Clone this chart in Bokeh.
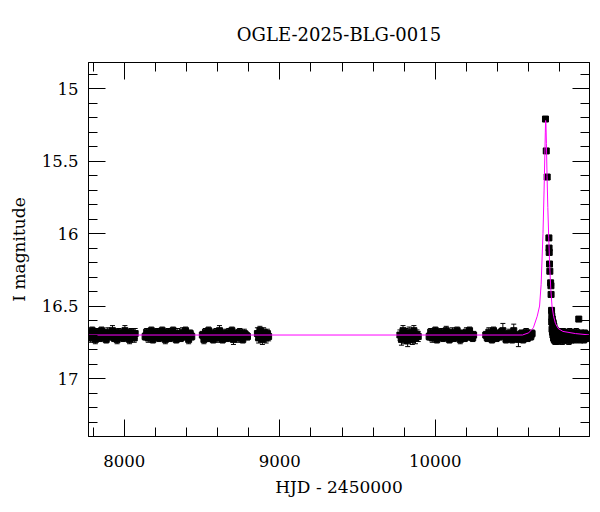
from bokeh.plotting import figure
from bokeh.models import (ColumnDataSource, Range1d, LinearAxis, FixedTicker,
                          CustomJSTickFormatter, Whisker, TeeHead)
from bokeh.embed import file_html
from bokeh.resources import INLINE

FONT = "DejaVu Serif"

# ---------------- data ----------------
s1_t = [7774, 7784, 7794, 7804, 7814, 7824, 7834, 7844, 7854, 7864, 7874, 7884, 7894, 7904, 7914, 7924,
        7934, 7944, 7954, 7964, 7974, 7984, 7994, 8004, 8014, 8024, 8034, 8044, 8054, 8064, 8070]
s1_m = [16.69, 16.72, 16.67, 16.71, 16.73, 16.68, 16.70, 16.72, 16.67, 16.71, 16.69, 16.73, 16.68, 16.71,
        16.70, 16.67, 16.72, 16.69, 16.73, 16.68, 16.71, 16.70, 16.72, 16.67, 16.71, 16.69, 16.73, 16.68,
        16.70, 16.72, 16.69]
s1_e = [0.025, 0.03, 0.025, 0.025, 0.03, 0.025, 0.035, 0.025, 0.025, 0.03, 0.025, 0.025, 0.03, 0.025,
        0.025, 0.035, 0.025, 0.025, 0.03, 0.025, 0.025, 0.03, 0.025, 0.035, 0.025, 0.025, 0.03, 0.025,
        0.025, 0.03, 0.035]

s2_t = [8134, 8144, 8154, 8164, 8174, 8184, 8194, 8204, 8214, 8224, 8234, 8244, 8254, 8264, 8274, 8284,
        8294, 8304, 8314, 8324, 8334, 8344, 8354, 8364, 8374, 8384, 8394, 8404, 8414, 8424, 8434]
s2_m = [16.71, 16.68, 16.72, 16.70, 16.67, 16.73, 16.69, 16.71, 16.68, 16.72, 16.70, 16.67, 16.71, 16.73,
        16.69, 16.68, 16.72, 16.70, 16.67, 16.71, 16.73, 16.69, 16.70, 16.72, 16.68, 16.71, 16.67, 16.70,
        16.73, 16.69, 16.71]
s2_e = [0.025, 0.025, 0.03, 0.025, 0.025, 0.025, 0.03, 0.025, 0.025, 0.025, 0.035, 0.025, 0.025, 0.03,
        0.025, 0.025, 0.025, 0.03, 0.025, 0.025, 0.025, 0.035, 0.025, 0.025, 0.03, 0.025, 0.025, 0.025,
        0.03, 0.025, 0.025]

s3_t = [8502, 8512, 8522, 8532, 8542, 8552, 8562, 8572, 8582, 8592, 8602, 8612, 8622, 8632, 8642,
        8652, 8662, 8672, 8682, 8692, 8702, 8712, 8722, 8732, 8742, 8752, 8762, 8772, 8782, 8792]
s3_m = [16.70, 16.73, 16.68, 16.71, 16.67, 16.72, 16.69, 16.73, 16.70, 16.68, 16.72, 16.67, 16.71, 16.73,
        16.69, 16.70, 16.72, 16.68, 16.71, 16.67, 16.73, 16.70, 16.69, 16.72, 16.68, 16.71, 16.73, 16.69,
        16.70, 16.71]
s3_e = [0.025, 0.03, 0.025, 0.035, 0.025, 0.025, 0.03, 0.025, 0.025, 0.025, 0.03, 0.035, 0.025, 0.025,
        0.03, 0.025, 0.025, 0.025, 0.03, 0.025, 0.035, 0.025, 0.025, 0.03, 0.025, 0.025, 0.025, 0.03,
        0.025, 0.025]

s4_t = [8856, 8864, 8872, 8880, 8888, 8896, 8904, 8912, 8920, 8928]
s4_m = [16.69, 16.72, 16.67, 16.71, 16.73, 16.68, 16.70, 16.72, 16.69, 16.71]
s4_e = [0.04, 0.035, 0.03, 0.03, 0.035, 0.03, 0.03, 0.035, 0.03, 0.03]

s5_t = [9772, 9782, 9792, 9802, 9812, 9822, 9832, 9842, 9852, 9862, 9872, 9882, 9890]
s5_m = [16.70, 16.73, 16.67, 16.72, 16.69, 16.74, 16.68, 16.71, 16.73, 16.67, 16.72, 16.70, 16.71]
s5_e = [0.035, 0.04, 0.035, 0.04, 0.035, 0.04, 0.035, 0.04, 0.035, 0.035, 0.04, 0.035, 0.035]

s6_t = [9960, 9970, 9980, 9990, 10000, 10010, 10020, 10030, 10040, 10050, 10060, 10070, 10080, 10090,
        10100, 10110, 10120, 10130, 10140, 10150, 10160, 10170, 10180, 10190, 10200, 10210, 10220,
        10230, 10240, 10246]
s6_m = [16.71, 16.68, 16.72, 16.70, 16.67, 16.73, 16.69, 16.71, 16.68, 16.72, 16.70, 16.67, 16.71, 16.73,
        16.69, 16.68, 16.72, 16.70, 16.67, 16.71, 16.73, 16.69, 16.70, 16.72, 16.68, 16.71, 16.67, 16.70,
        16.72, 16.70]
s6_e = [0.025, 0.025, 0.03, 0.025, 0.025, 0.025, 0.03, 0.025, 0.025, 0.025, 0.025, 0.03, 0.025, 0.025,
        0.025, 0.03, 0.025, 0.025, 0.025, 0.025, 0.03, 0.025, 0.025, 0.025, 0.03, 0.025, 0.025, 0.025,
        0.025, 0.025]

s7_t = [10324, 10334, 10344, 10354, 10364, 10374, 10384, 10394, 10404, 10414, 10424, 10434, 10444,
        10454, 10464, 10474, 10484, 10494, 10504, 10514, 10524, 10534, 10544, 10554, 10564, 10574,
        10584, 10594, 10604, 10614, 10622]
s7_m = [16.70, 16.72, 16.68, 16.71, 16.73, 16.67, 16.70, 16.72, 16.69, 16.71, 16.68, 16.67, 16.70,
        16.73, 16.72, 16.69, 16.71, 16.73, 16.67, 16.70, 16.72, 16.73, 16.71, 16.69, 16.73, 16.70,
        16.68, 16.72, 16.70, 16.71, 16.69]
s7_e = [0.025, 0.025, 0.03, 0.025, 0.025, 0.025, 0.03, 0.025, 0.025, 0.025, 0.025, 0.05, 0.025,
        0.025, 0.025, 0.03, 0.025, 0.025, 0.045, 0.025, 0.025, 0.05, 0.025, 0.025, 0.025, 0.03,
        0.025, 0.025, 0.025, 0.025, 0.025]

ev_t = [10708, 10713, 10719, 10730, 10731, 10732, 10734, 10736, 10741, 10743, 10744]
ev_m = [15.21, 15.43, 15.61, 16.03, 16.10, 16.13, 16.21, 16.26, 16.34, 16.36, 16.42]
ev_e = [0.01, 0.012, 0.012, 0.012, 0.012, 0.012, 0.012, 0.012, 0.012, 0.012, 0.012]

tail_t = [10747, 10748, 10749, 10750, 10752, 10753, 10755, 10756, 10758, 10760, 10762, 10764,
          10767, 10770, 10773, 10776, 10780, 10784, 10788, 10793, 10798, 10804, 10810, 10816,
          10822, 10828, 10834, 10840, 10846, 10852, 10858, 10864, 10870, 10876, 10882, 10888,
          10894, 10900, 10906, 10912, 10918, 10922, 10926, 10932, 10938, 10944, 10950, 10956,
          10962, 10968, 10974, 10980, 10986]
tail_m = [16.53, 16.61, 16.57, 16.66, 16.59, 16.68, 16.61, 16.70, 16.62, 16.72, 16.64, 16.73,
          16.66, 16.74, 16.67, 16.73, 16.68, 16.74, 16.69, 16.73, 16.68, 16.72, 16.70, 16.74,
          16.68, 16.71, 16.73, 16.69, 16.72, 16.70, 16.74, 16.68, 16.71, 16.73, 16.69, 16.72,
          16.70, 16.73, 16.68, 16.71, 16.72, 16.59, 16.70, 16.73, 16.69, 16.72, 16.70, 16.73,
          16.69, 16.71, 16.72, 16.70, 16.71]
tail_e = [0.02, 0.025, 0.02, 0.025, 0.02, 0.025, 0.02, 0.025, 0.025, 0.025, 0.025, 0.025,
          0.025, 0.025, 0.025, 0.025, 0.025, 0.025, 0.025, 0.025, 0.025, 0.03, 0.025, 0.025,
          0.025, 0.025, 0.025, 0.03, 0.025, 0.025, 0.025, 0.025, 0.025, 0.025, 0.025, 0.025,
          0.03, 0.025, 0.025, 0.025, 0.025, 0.008, 0.025, 0.025, 0.025, 0.025, 0.025, 0.025,
          0.025, 0.025, 0.025, 0.025, 0.025]

model_t = [7770, 10560, 10600, 10630, 10655, 10670, 10680, 10692, 10699, 10704, 10707, 10709,
           10711, 10714, 10718, 10723, 10729, 10735, 10742, 10750, 10760, 10772, 10790, 10820,
           10900, 10995]
model_m = [16.70, 16.70, 16.685, 16.65, 16.57, 16.50, 16.35, 16.00, 15.70, 15.45, 15.30, 15.22,
           15.24, 15.38, 15.60, 15.82, 16.03, 16.22, 16.38, 16.50, 16.57, 16.62, 16.655, 16.675,
           16.69, 16.70]

x_major = [8000, 9000, 10000]
x_minor = [7800, 8000, 8200, 8400, 8600, 8800, 9000, 9200, 9400, 9600, 9800, 10000,
           10200, 10400, 10600, 10800]
y_major = [15, 15.5, 16, 16.5, 17]
y_minor = [14.9, 15.0, 15.1, 15.2, 15.3, 15.4, 15.5, 15.6, 15.7, 15.8, 15.9, 16.0, 16.1,
           16.2, 16.3, 16.4, 16.5, 16.6, 16.7, 16.8, 16.9, 17.0, 17.1, 17.2, 17.3]

# ---------------- build ----------------
T = s1_t + s2_t + s3_t + s4_t + s5_t + s6_t + s7_t + ev_t + tail_t
M = s1_m + s2_m + s3_m + s4_m + s5_m + s6_m + s7_m + ev_m + tail_m
E = s1_e + s2_e + s3_e + s4_e + s5_e + s6_e + s7_e + ev_e + tail_e
src = ColumnDataSource(dict(t=T, m=M, up=[a - b for a, b in zip(M, E)],
                            lo=[a + b for a, b in zip(M, E)]))

p = figure(output_backend="svg", toolbar_location=None,
           x_range=Range1d(7770, 10991), y_range=Range1d(17.40, 14.82),
           frame_width=501, frame_height=374,
           min_border_left=88, min_border_right=6, min_border_top=62, min_border_bottom=70,
           x_axis_label="HJD - 2450000", y_axis_label="I magnitude",
           title="OGLE-2025-BLG-0015")
p.background_fill_color = "white"
p.border_fill_color = "white"
p.outline_line_color = "black"
p.outline_line_width = 1
p.grid.visible = False

p.title.text_font = FONT
p.title.text_font_size = "18px"
p.title.text_font_style = "normal"
p.title.text_color = "black"
p.title.align = "center"
p.title.standoff = 35

fmt = CustomJSTickFormatter(code="return String(tick);")
blank = CustomJSTickFormatter(code="return '';")

def style_axis(ax, show_labels):
    ax.axis_line_color = "black"
    ax.major_tick_line_color = "black"
    ax.minor_tick_line_color = "black"
    ax.major_tick_in = 17
    ax.major_tick_out = 0
    ax.minor_tick_in = 9
    ax.minor_tick_out = 0
    if show_labels:
        ax.major_label_text_font = FONT
        ax.major_label_text_font_size = "16.5px"
        ax.major_label_text_color = "black"
        ax.axis_label_text_font = FONT
        ax.axis_label_text_font_size = "17px"
        ax.axis_label_text_font_style = "normal"
        ax.axis_label_text_color = "black"
    else:
        ax.formatter = blank
        ax.major_label_standoff = 0
        ax.major_label_text_font_size = "1px"
        ax.axis_label = None

xb = p.xaxis[0]
xb.ticker = FixedTicker(ticks=x_major, minor_ticks=x_minor)
style_axis(xb, True)
xb.major_label_standoff = 18
xb.axis_label_standoff = 7

yl = p.yaxis[0]
yl.ticker = FixedTicker(ticks=y_major, minor_ticks=y_minor)
yl.formatter = fmt
style_axis(yl, True)
yl.major_label_standoff = 10
yl.axis_label_standoff = 10
yl.major_label_orientation = "horizontal"

xt = LinearAxis(ticker=FixedTicker(ticks=x_major, minor_ticks=x_minor))
style_axis(xt, False)
p.add_layout(xt, "above")
yr = LinearAxis(ticker=FixedTicker(ticks=y_major, minor_ticks=y_minor))
style_axis(yr, False)
p.add_layout(yr, "right")

wh = Whisker(source=src, base="t", upper="up", lower="lo", dimension="height",
             line_color="black", line_width=1,
             upper_head=TeeHead(size=5, line_color="black", line_width=1),
             lower_head=TeeHead(size=5, line_color="black", line_width=1))
p.add_layout(wh)
p.scatter("t", "m", source=src, marker="square", size=6, color="black")
p.line(model_t, model_m, color="#ff00ff", line_width=1)

open("out.html", "w").write(file_html(p, INLINE))
